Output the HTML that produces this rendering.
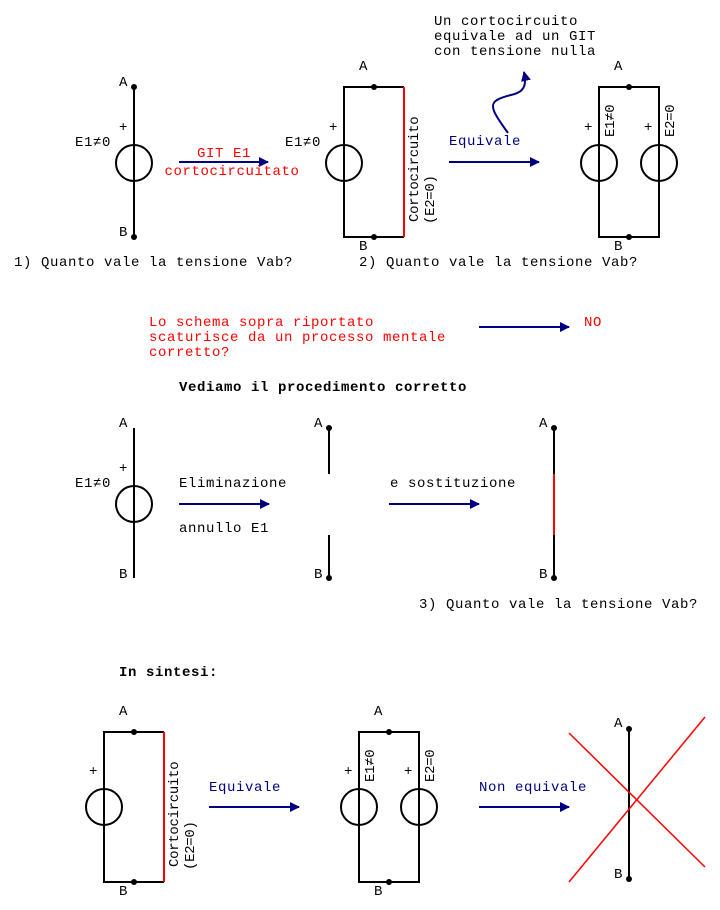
<!DOCTYPE html>
<html><head><meta charset="utf-8"><style>
html,body{margin:0;padding:0;background:#fff}
svg{display:block}
text{font-family:"Liberation Mono",monospace;font-size:14px;letter-spacing:0.6px;fill:#000}
text.v{letter-spacing:-0.3px}
.r{fill:#f00}.n{fill:#000080}.b{font-weight:bold}
</style></head><body>
<svg width="720" height="910" viewBox="0 0 720 910" xmlns="http://www.w3.org/2000/svg">
<defs>
<marker id="ah" markerWidth="10" markerHeight="10" refX="9" refY="5" orient="auto" markerUnits="userSpaceOnUse"><path d="M0,0 L10,5 L0,10 z" fill="#000080"/></marker>
</defs>
<g stroke="#000" stroke-width="2" fill="none">
<line x1="134" y1="87" x2="134" y2="237"/><circle cx="134" cy="163" r="18"/>
<path d="M404,87 H344 V237 H404"/><line x1="404" y1="87" x2="404" y2="237" stroke="#f00"/>
<circle cx="344" cy="163" r="18"/>
<rect x="599" y="87" width="60" height="150"/><circle cx="599" cy="163" r="18"/><circle cx="659" cy="163" r="18"/>
<line x1="134" y1="428" x2="134" y2="578"/><circle cx="134" cy="504" r="18"/>
<line x1="329" y1="428" x2="329" y2="474"/><line x1="329" y1="535" x2="329" y2="578"/>
<line x1="554" y1="428" x2="554" y2="474"/><line x1="554" y1="535" x2="554" y2="578"/><line x1="554" y1="474" x2="554" y2="535" stroke="#f00"/>
<path d="M164,732 H104 V882 H164"/><line x1="164" y1="732" x2="164" y2="882" stroke="#f00"/><circle cx="104" cy="807" r="18"/>
<rect x="359" y="732" width="60" height="150"/><circle cx="359" cy="807" r="18"/><circle cx="419" cy="807" r="18"/>
<line x1="629" y1="729" x2="629" y2="879"/>
</g>
<g stroke="#f00" stroke-width="1.5"><line x1="569" y1="733" x2="705" y2="867"/><line x1="705" y1="717" x2="569" y2="882"/></g>
<g fill="#000">
<circle cx="134" cy="87" r="3"/><circle cx="134" cy="237" r="3"/>
<circle cx="374" cy="87" r="3"/><circle cx="374" cy="237" r="3"/>
<circle cx="629" cy="87" r="3"/><circle cx="629" cy="237" r="3"/>
<circle cx="329" cy="428" r="3"/><circle cx="329" cy="578" r="3"/>
<circle cx="554" cy="428" r="3"/><circle cx="554" cy="578" r="3"/>
<circle cx="134" cy="732" r="3"/><circle cx="134" cy="882" r="3"/>
<circle cx="389" cy="732" r="3"/><circle cx="389" cy="882" r="3"/>
<circle cx="629" cy="729" r="3"/><circle cx="629" cy="879" r="3"/>
</g>
<g stroke="#000080" stroke-width="2" fill="none" marker-end="url(#ah)">
<line x1="179" y1="162" x2="268" y2="162"/>
<line x1="449" y1="162" x2="539" y2="162"/>
<path d="M508,133 C495,115 488,105 497,100 C510,92 530,98 524,72"/>
<line x1="479" y1="327" x2="569" y2="327"/>
<line x1="179" y1="504" x2="269" y2="504"/>
<line x1="389" y1="504" x2="479" y2="504"/>
<line x1="209" y1="807" x2="299" y2="807"/>
<line x1="479" y1="807" x2="569" y2="807"/>
</g>
<text x="119" y="86">A</text><text x="119" y="131">+</text><text x="75" y="146">E1≠0</text><text x="119" y="236">B</text>
<text class="r" x="224" y="157" text-anchor="middle">GIT E1</text><text class="r" x="232" y="175" text-anchor="middle">cortocircuitato</text>
<text x="359" y="70">A</text><text x="329" y="131">+</text><text x="285" y="146">E1≠0</text><text x="359" y="250">B</text>
<text class="v" transform="translate(418,222) rotate(-90)">Cortocircuito</text>
<text class="v" transform="translate(434,224) rotate(-90)">(E2=0)</text>
<text class="n" x="449" y="145">Equivale</text>
<text x="434" y="25">Un cortocircuito</text><text x="434" y="40">equivale ad un GIT</text><text x="434" y="55">con tensione nulla</text>
<text x="614" y="70">A</text><text x="584" y="131">+</text><text x="644" y="131">+</text><text x="614" y="250">B</text>
<text class="v" transform="translate(614,137) rotate(-90)">E1≠0</text>
<text class="v" transform="translate(674,137) rotate(-90)">E2=0</text>
<text x="14" y="266">1) Quanto vale la tensione Vab?</text>
<text x="359" y="266">2) Quanto vale la tensione Vab?</text>
<text class="r" x="149" y="326">Lo schema sopra riportato</text><text class="r" x="149" y="341">scaturisce da un processo mentale</text><text class="r" x="149" y="356">corretto?</text>
<text class="r" x="584" y="326">NO</text>
<text class="b" x="179" y="391">Vediamo il procedimento corretto</text>
<text x="119" y="427">A</text><text x="119" y="472">+</text><text x="75" y="487">E1≠0</text><text x="119" y="578">B</text>
<text x="179" y="487">Eliminazione</text><text x="179" y="532">annullo E1</text>
<text x="314" y="427">A</text><text x="314" y="578">B</text>
<text x="390" y="487">e sostituzione</text>
<text x="539" y="427">A</text><text x="539" y="578">B</text>
<text x="419" y="608">3) Quanto vale la tensione Vab?</text>
<text class="b" x="119" y="676">In sintesi:</text>
<text x="119" y="715">A</text><text x="89" y="775">+</text><text x="119" y="895">B</text>
<text class="v" transform="translate(178,867) rotate(-90)">Cortocircuito</text>
<text class="v" transform="translate(194,870) rotate(-90)">(E2=0)</text>
<text class="n" x="209" y="791">Equivale</text>
<text x="374" y="715">A</text><text x="344" y="775">+</text><text x="404" y="775">+</text><text x="374" y="895">B</text>
<text class="v" transform="translate(374,782) rotate(-90)">E1≠0</text>
<text class="v" transform="translate(434,782) rotate(-90)">E2=0</text>
<text class="n" x="479" y="791">Non equivale</text>
<text x="614" y="727">A</text><text x="614" y="878">B</text>
</svg>
</body></html>
